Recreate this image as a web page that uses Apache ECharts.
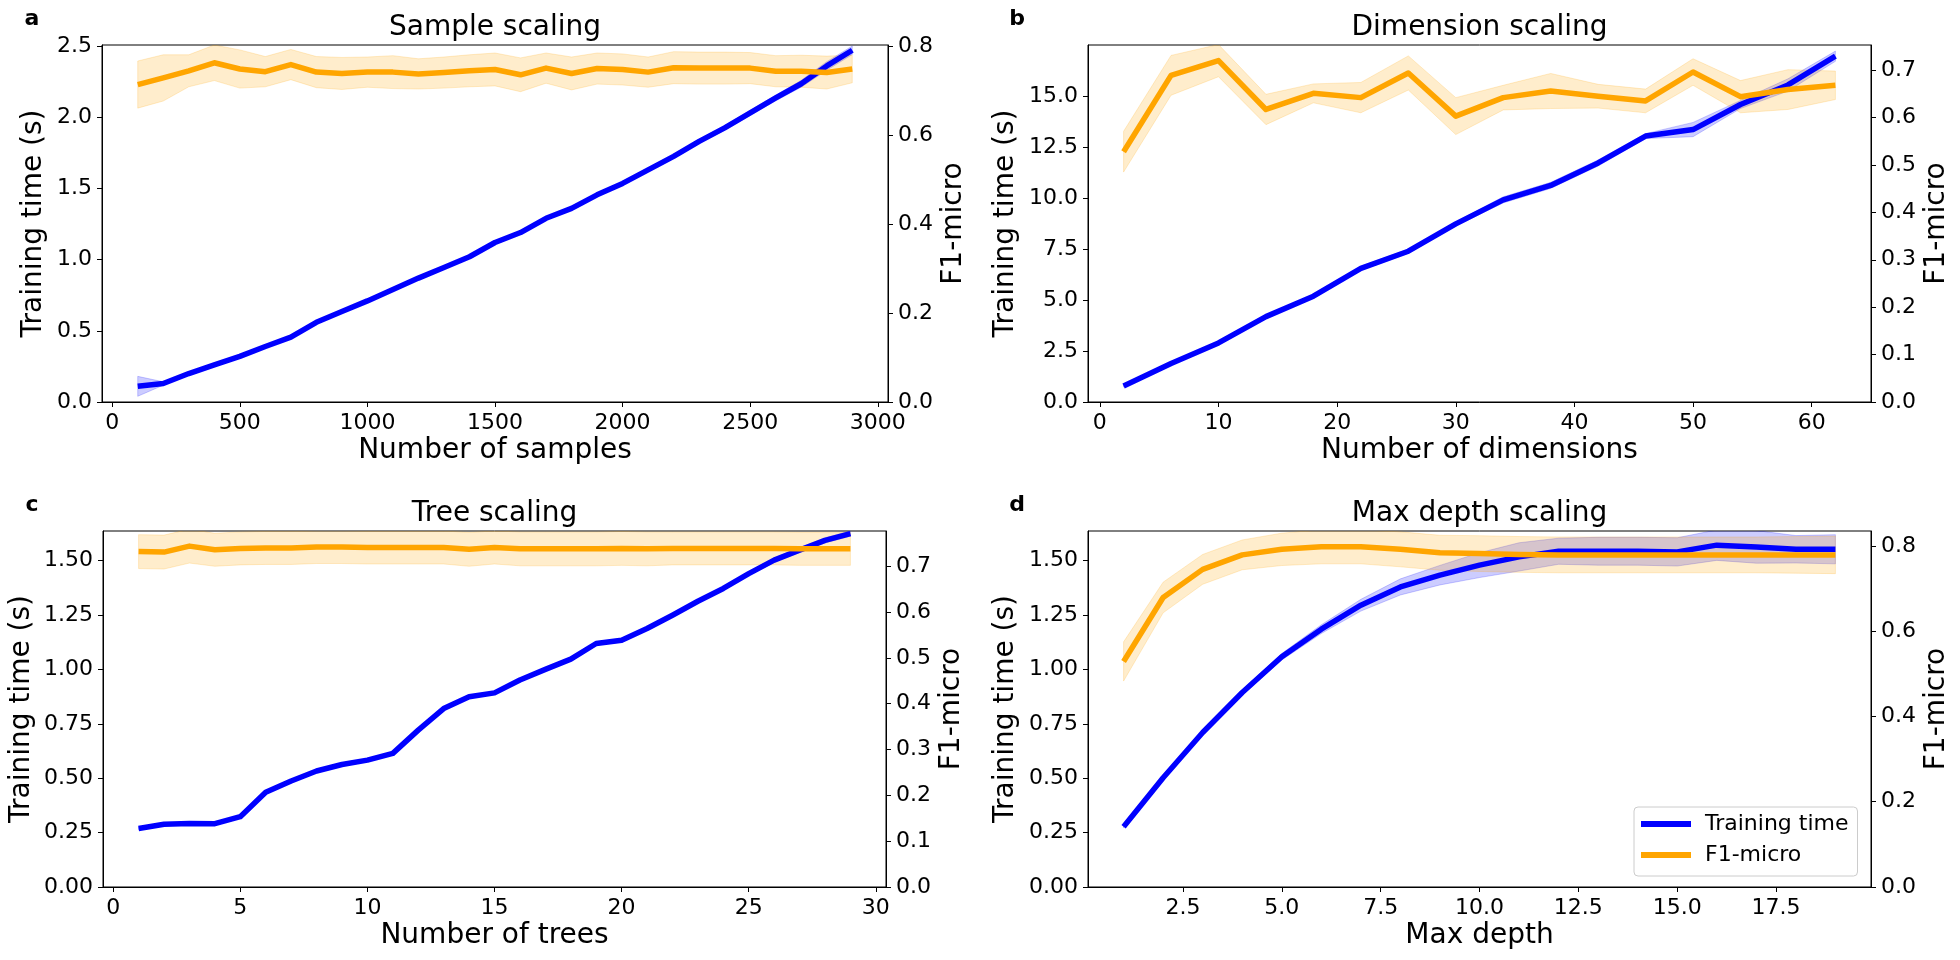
<!DOCTYPE html>
<html><head><meta charset="utf-8">
<script src="https://cdn.jsdelivr.net/npm/echarts@6/dist/echarts.min.js"></script>
<style>html,body{margin:0;padding:0;background:#fff}#c{width:1960px;height:960px}</style>
</head><body><div id="c"></div>
<script>
// ---------- Panel a: Sample scaling ----------
const samplesX = [100,200,300,400,500,600,700,800,900,1000,1100,1200,1300,1400,1500,1600,1700,1800,1900,2000,2100,2200,2300,2400,2500,2600,2700,2800,2900];
const samplesTime = [0.11,0.13,0.20,0.26,0.32,0.39,0.455,0.56,0.635,0.71,0.79,0.87,0.945,1.02,1.12,1.19,1.29,1.36,1.455,1.535,1.63,1.725,1.83,1.925,2.03,2.135,2.235,2.36,2.47];
const samplesTimeStd = [0.07,0.012,0.008,0.008,0.008,0.008,0.008,0.008,0.008,0.008,0.008,0.008,0.008,0.008,0.01,0.01,0.01,0.01,0.01,0.01,0.012,0.012,0.014,0.016,0.018,0.02,0.024,0.03,0.03];
const samplesF1 = [0.714,0.729,0.745,0.763,0.749,0.743,0.759,0.742,0.739,0.742,0.742,0.738,0.741,0.745,0.748,0.736,0.751,0.739,0.750,0.748,0.742,0.752,0.751,0.751,0.751,0.744,0.744,0.741,0.749];
const samplesF1Std = [0.053,0.052,0.036,0.040,0.043,0.034,0.034,0.035,0.036,0.034,0.037,0.034,0.035,0.036,0.037,0.038,0.034,0.037,0.035,0.035,0.034,0.036,0.036,0.036,0.035,0.035,0.036,0.037,0.031];

// ---------- Panel b: Dimension scaling ----------
const dimsX = [2,6,10,14,18,22,26,30,34,38,42,46,50,54,58,62];
const dimsTime = [0.79,1.89,2.90,4.19,5.19,6.56,7.40,8.74,9.92,10.63,11.73,13.05,13.37,14.60,15.56,16.97];
const dimsTimeStd = [0.05,0.06,0.07,0.08,0.08,0.1,0.1,0.1,0.15,0.15,0.15,0.12,0.35,0.2,0.3,0.25];
const dimsF1 = [0.528,0.689,0.720,0.617,0.651,0.642,0.694,0.603,0.642,0.656,0.645,0.635,0.696,0.644,0.659,0.668];
const dimsF1Std = [0.043,0.042,0.034,0.032,0.02,0.032,0.036,0.039,0.026,0.037,0.025,0.025,0.028,0.034,0.042,0.03];

// ---------- Panel c: Tree scaling ----------
const treesX = [1,2,3,4,5,6,7,8,9,10,11,12,13,14,15,16,17,18,19,20,21,22,23,24,25,26,27,28,29];
const treesTime = [0.269,0.288,0.292,0.291,0.323,0.435,0.487,0.533,0.563,0.583,0.614,0.721,0.820,0.874,0.892,0.951,1.000,1.047,1.119,1.134,1.188,1.249,1.313,1.372,1.440,1.502,1.548,1.593,1.624];
const treesTimeStd = [0.005,0.005,0.005,0.005,0.005,0.005,0.006,0.006,0.006,0.006,0.006,0.006,0.007,0.007,0.007,0.007,0.007,0.008,0.008,0.008,0.008,0.008,0.009,0.009,0.009,0.01,0.01,0.012,0.012];
const treesF1 = [0.732,0.731,0.744,0.736,0.739,0.740,0.740,0.742,0.742,0.741,0.741,0.741,0.741,0.737,0.741,0.738,0.738,0.738,0.738,0.739,0.738,0.739,0.739,0.739,0.739,0.739,0.738,0.738,0.738];
const treesF1Std = [0.037,0.037,0.037,0.036,0.036,0.036,0.036,0.036,0.036,0.036,0.036,0.036,0.036,0.037,0.036,0.037,0.037,0.037,0.037,0.037,0.037,0.036,0.036,0.036,0.036,0.036,0.036,0.036,0.036];

// ---------- Panel d: Max depth scaling ----------
const depthX = [1,2,3,4,5,6,7,8,9,10,11,12,13,14,15,16,17,18,19];
const depthTime = [0.277,0.502,0.710,0.894,1.058,1.185,1.295,1.379,1.433,1.479,1.517,1.543,1.543,1.543,1.540,1.571,1.563,1.552,1.552];
const depthTimeStd = [0.005,0.008,0.01,0.012,0.015,0.02,0.027,0.037,0.045,0.057,0.065,0.06,0.064,0.064,0.065,0.07,0.075,0.063,0.067];
const depthF1 = [0.529,0.679,0.745,0.779,0.792,0.798,0.798,0.792,0.784,0.782,0.780,0.779,0.779,0.779,0.779,0.779,0.779,0.779,0.779];
const depthF1Std = [0.046,0.036,0.035,0.035,0.038,0.04,0.04,0.041,0.041,0.042,0.042,0.042,0.042,0.042,0.042,0.042,0.042,0.043,0.044];

// ---------- Tick labels ----------
const ticksXa = [0,500,1000,1500,2000,2500,3000];
const ticksXb = [0,10,20,30,40,50,60];
const ticksXc = [0,5,10,15,20,25,30];
const ticksXd = [2.5,5.0,7.5,10.0,12.5,15.0,17.5];
const ticksYa = [0,0.5,1.0,1.5,2.0,2.5];
const ticksYb = [0,2.5,5.0,7.5,10.0,12.5,15.0];
const ticksYcd = [0,0.25,0.5,0.75,1.0,1.25,1.5];
const ticksRad = [0,0.2,0.4,0.6,0.8];
const ticksRbc = [0,0.1,0.2,0.3,0.4,0.5,0.6,0.7];

const titles = ['Sample scaling','Dimension scaling','Tree scaling','Max depth scaling'];
const letters = ['a','b','c','d'];
const xNames = ['Number of samples','Number of dimensions','Number of trees','Max depth'];

const FONT = 'DejaVu Sans';
const BLUE = '#0000ff', ORANGE = '#ffa500';

const grids = [
  {left:102, top:45, width:786, height:357},
  {left:1088, top:45, width:783, height:357},
  {left:103, top:531, width:783, height:356},
  {left:1088, top:531, width:783, height:356}
];

const panels = [
  {x:samplesX,t:samplesTime,ts:samplesTimeStd,f:samplesF1,fs:samplesF1Std,xmin:-40,xmax:3040,xt:ticksXa,xd:0,ymax:2.507,yt:ticksYa,yd:1,rmax:0.803,rt:ticksRad,rd:1,lgap:54},
  {x:dimsX,t:dimsTime,ts:dimsTimeStd,f:dimsF1,fs:dimsF1Std,xmin:-1,xmax:65,xt:ticksXb,xd:0,ymax:17.52,yt:ticksYb,yd:1,rmax:0.753,rt:ticksRbc,rd:1,lgap:68},
  {x:treesX,t:treesTime,ts:treesTimeStd,f:treesF1,fs:treesF1Std,xmin:-0.4,xmax:30.4,xt:ticksXc,xd:0,ymax:1.636,yt:ticksYcd,yd:2,rmax:0.777,rt:ticksRbc,rd:1,lgap:67},
  {x:depthX,t:depthTime,ts:depthTimeStd,f:depthF1,fs:depthF1Std,xmin:0.1,xmax:19.9,xt:ticksXd,xd:1,ymax:1.636,yt:ticksYcd,yd:2,rmax:0.835,rt:ticksRad,rd:1,lgap:68}
];

const tickFont = {fontSize:22, color:'#000', fontFamily:FONT};
const nameFont = {fontSize:28, color:'#000', fontFamily:FONT};

function axisCommon(ticks, dec){
  return {
    axisLine:{show:true, onZero:false, lineStyle:{color:'#000', width:1}},
    axisTick:{show:true, inside:false, length:5, lineStyle:{color:'#000', width:1}, customValues:ticks},
    axisLabel:Object.assign({customValues:ticks, margin:10, formatter:v=>Number(v).toFixed(dec)}, tickFont),
    splitLine:{show:false}
  };
}

// shaded band (mean ± std) drawn as one polygon through the axis scales
function bandSeries(i, yi, xs, mean, sd, fill){
  const data = xs.map((x,k)=>[x, mean[k]-sd[k], mean[k]+sd[k]]);
  return {
    type:'custom', name:'band', xAxisIndex:i, yAxisIndex:yi, silent:true, clip:true, z:2,
    encode:{x:0, y:[1,2]},
    data:data,
    renderItem:function(params, api){
      if (params.dataIndex !== 0) return null;
      const up = data.map(d=>api.coord([d[0], d[2]]));
      const lo = data.map(d=>api.coord([d[0], d[1]])).reverse();
      return {type:'polygon', shape:{points:up.concat(lo)},
        style:{fill:fill, stroke:fill, lineWidth:1}};
    }
  };
}

const xAxis = [], yAxis = [], series = [], graphic = [];
panels.forEach((p,i)=>{
  xAxis.push(Object.assign({type:'value', gridIndex:i, min:p.xmin, max:p.xmax,
    name:xNames[i], nameLocation:'middle', nameGap:35, nameTextStyle:nameFont}, axisCommon(p.xt,p.xd)));
  yAxis.push(Object.assign({type:'value', gridIndex:i, position:'left', min:0, max:p.ymax,
    name:'Training time (s)', nameLocation:'middle', nameRotate:90, nameGap:p.lgap, nameTextStyle:nameFont}, axisCommon(p.yt,p.yd)));
  yAxis.push(Object.assign({type:'value', gridIndex:i, position:'right', min:0, max:p.rmax,
    name:'F1-micro', nameLocation:'middle', nameRotate:90, nameGap:52, nameTextStyle:nameFont}, axisCommon(p.rt,p.rd)));

  series.push(bandSeries(i, 2*i, p.x, p.t, p.ts, 'rgba(0,0,255,0.2)'));
  series.push({type:'line', name:'Training time', xAxisIndex:i, yAxisIndex:2*i, symbol:'none', silent:true,
    itemStyle:{color:BLUE}, lineStyle:{width:5.5, color:BLUE, join:'round'}, data:p.x.map((x,k)=>[x,p.t[k]]), z:2});
  series.push(bandSeries(i, 2*i+1, p.x, p.f, p.fs, 'rgba(255,165,0,0.2)'));
  series.push({type:'line', name:'F1-micro', xAxisIndex:i, yAxisIndex:2*i+1, symbol:'none', silent:true,
    itemStyle:{color:ORANGE}, lineStyle:{width:5.5, color:ORANGE, join:'round'}, data:p.x.map((x,k)=>[x,p.f[k]]), z:2});

  const g = grids[i];
  graphic.push({type:'text', x:g.left+g.width/2, y:g.top-17, style:{text:titles[i], font:'28px "DejaVu Sans"', fill:'#000', textAlign:'center', textVerticalAlign:'middle'}});
  graphic.push({type:'text', x:(i%2===0?32:1017), y:(i<2?19:505), style:{text:letters[i], font:'bold 22px "DejaVu Sans"', fill:'#000', textAlign:'center', textVerticalAlign:'middle'}});
});

const chart = echarts.init(document.getElementById('c'), null, {renderer:'canvas'});
chart.setOption({
  animation:false,
  backgroundColor:'#fff',
  grid: grids.map(g=>Object.assign({show:true, borderColor:'#000', borderWidth:1, backgroundColor:'transparent', containLabel:false}, g)),
  xAxis, yAxis, series, graphic,
  legend:{data:['Training time','F1-micro'], left:1634, top:807, orient:'vertical', icon:'rect',
    itemWidth:50, itemHeight:6, itemGap:9, padding:[6,9,10,7], borderColor:'#cccccc', borderWidth:1, borderRadius:4,
    backgroundColor:'rgba(255,255,255,0.8)', selectedMode:false,
    textStyle:{fontSize:22, fontFamily:FONT, color:'#000', padding:[0,0,0,9]}}
});
</script></body></html>
